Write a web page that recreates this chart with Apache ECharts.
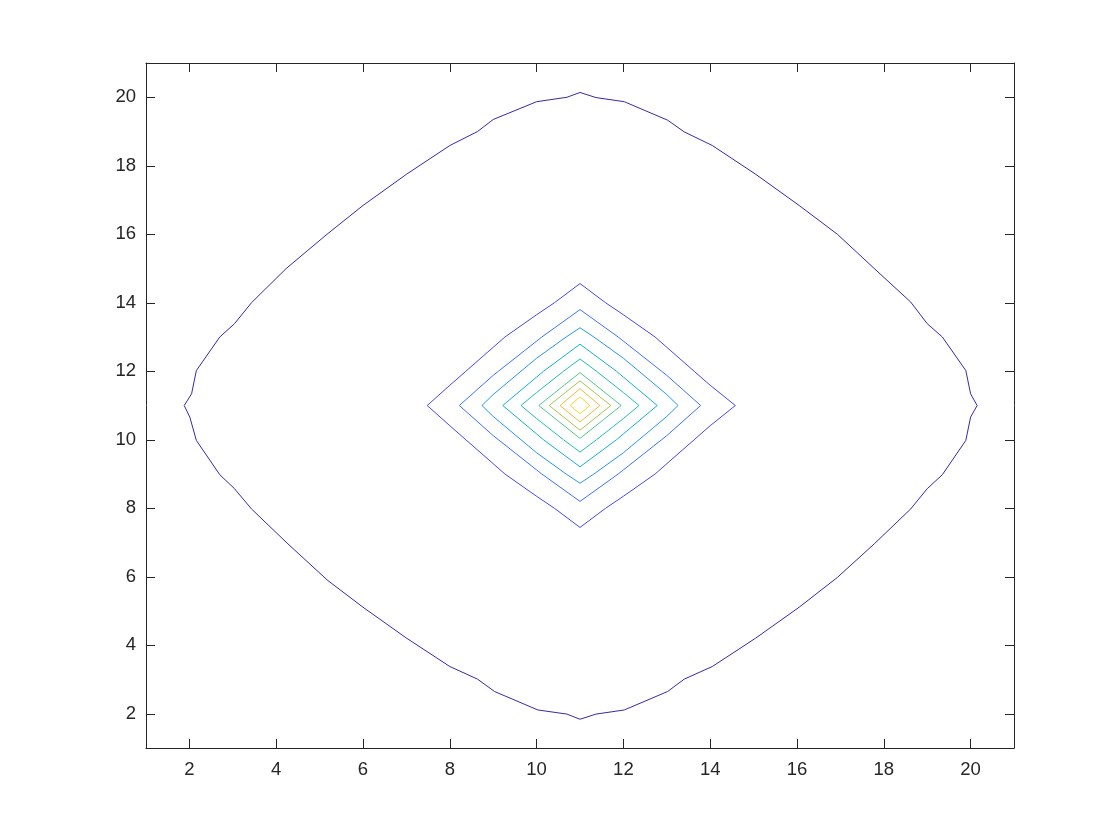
<!DOCTYPE html>
<html>
<head>
<meta charset="utf-8">
<script src="https://cdn.jsdelivr.net/npm/echarts@6/dist/echarts.min.js"></script>
<style>
html,body{margin:0;padding:0;background:#fff;}
#chart{width:1120px;height:840px;}
</style>
</head>
<body>
<div id="chart"></div>
<script>
// Axis ticks
var xTicks = [2, 4, 6, 8, 10, 12, 14, 16, 18, 20];
var yTicks = [2, 4, 6, 8, 10, 12, 14, 16, 18, 20];

// Contour lines (outermost level first)
var contour0 = [[11,20.14],[10.7,20.0],[10,19.87],[9,19.35],[8.64,19],[8,18.59],[7,17.75],[6,16.84],[5.19,16.02],[4.23,15],[3.43,14],[3.04,13.39],[2.7,13],[2.16,12.02],[2.05,11.34],[1.88,11],
  [2.01,10.66],[2.16,9.98],[2.7,8.98],[3.04,8.57],[3.43,7.98],[4.27,6.96],[5.19,5.89],[6,5.11],[7,4.21],[8,3.38],[8.64,3.01],[9.03,2.65],[10.03,2.11],[10.7,1.99],[11,1.84],
  [11.37,1.99],[12.02,2.11],[13.02,2.65],[13.4,3.01],[14.05,3.38],[15.05,4.21],[16.05,5.11],[16.93,5.98],[17.78,6.96],[18.62,7.98],[19,8.57],[19.35,8.98],[19.89,9.98],[20,10.66],[20.15,11],
  [20,11.34],[19.89,12.02],[19.35,13],[19,13.39],[18.62,14.02],[17.78,15],[16.93,16],[16.05,16.84],[15.05,17.75],[14.05,18.59],[13.4,18.99],[13.02,19.33],[12.02,19.87],[11.37,19.99],[11,20.14]];
var contour1 = [[11,14.56],[10.41,14],[10,13.65],[9.27,13],[9,12.70],[8.37,12],[8,11.59],[7.48,11],
  [8,10.41],[8.37,10],[9,9.30],[9.27,9],[10,8.35],[10.41,8],[11,7.44],
  [11.59,8],[12,8.35],[12.73,9],[13,9.30],[13.63,10],[14,10.41],[14.58,11],
  [14,11.59],[13.63,12],[13,12.70],[12.73,13],[12,13.65],[11.59,14],[11,14.56]];
var contour2 = [[11,13.80],[10.12,13],[10,12.88],[9.12,12],[9,11.88],[8.22,11],
  [9,10.12],[9.12,10],[10,9.12],[10.12,9],[11,8.20],
  [11.88,9],[12,9.12],[12.88,10],[13,10.12],[13.78,11],
  [13,11.88],[12.88,12],[12,12.88],[11.88,13],[11,13.80]];
var contour3 = [[11,13.27],[10.68,13],[10,12.38],[9.64,12],[9,11.32],[8.74,11],
  [9,10.68],[9.64,10],[10,9.62],[10.68,9],[11,8.73],
  [11.32,9],[12,9.62],[12.36,10],[13,10.68],[13.26,11],
  [13,11.32],[12.36,12],[12,12.38],[11.32,13],[11,13.27]];
var contour4 = [[11,12.79],[10.16,12],[10,11.83],[9.22,11],
  [10,10.17],[10.16,10],[11,9.21],
  [11.84,10],[12,10.17],[12.78,11],
  [12,11.83],[11.84,12],[11,12.79]];
var contour5 = [[11,12.36],[10.62,12],[10,11.38],[9.64,11],
  [10,10.62],[10.62,10],[11,9.64],
  [11.38,10],[12,10.62],[12.36,11],
  [12,11.38],[11.38,12],[11,12.36]];
var contour6 = [[11,11.96],[10.05,11],[11,10.04],[11.95,11],[11,11.96]];
var contour7 = [[11,11.72],[10.29,11],[11,10.28],[11.71,11],[11,11.72]];
var contour8 = [[11,11.49],[10.54,11],[11,10.52],[11.46,11],[11,11.49]];
var contour9 = [[11,11.25],[10.77,11],[11,10.76],[11.23,11],[11,11.25]];

var contours = [contour0, contour1, contour2, contour3, contour4, contour5, contour6, contour7, contour8, contour9];
var levelColors = ['#3e26a8', '#4847eb', '#3c72fb', '#2796eb', '#12b1d6', '#1fbfb5', '#52c78c', '#a8c64a', '#efba38', '#f8d62e'];

var chart = echarts.init(document.getElementById('chart'), null, {renderer: 'canvas'});
var axisCol = '#262626';
var font = '"Liberation Sans", Arial, Helvetica, sans-serif';

function xAx(pos, showLabel) {
  return {
    type: 'value', position: pos, min: 1, max: 21,
    axisLine: {show: true, onZero: false, lineStyle: {color: axisCol, width: 1}},
    axisTick: {show: true, inside: true, length: 9, customValues: xTicks, lineStyle: {color: axisCol, width: 1}},
    axisLabel: {show: showLabel, customValues: xTicks, margin: 12, color: axisCol, fontSize: 18.5, fontFamily: font},
    splitLine: {show: false}
  };
}
function yAx(pos, showLabel) {
  return {
    type: 'value', position: pos, min: 1, max: 21,
    axisLine: {show: true, onZero: false, lineStyle: {color: axisCol, width: 1}},
    axisTick: {show: true, inside: true, length: 9, customValues: yTicks, lineStyle: {color: axisCol, width: 1}},
    axisLabel: {show: showLabel, customValues: yTicks, margin: 10, color: axisCol, fontSize: 18.5, fontFamily: font},
    splitLine: {show: false}
  };
}

var series = contours.map(function (c, i) {
  return {
    type: 'line', data: c, xAxisIndex: 0, yAxisIndex: 0,
    showSymbol: false, symbol: 'none', smooth: false, silent: true,
    lineStyle: {color: levelColors[i], width: 1},
    z: 2
  };
});

chart.setOption({
  animation: false,
  backgroundColor: '#ffffff',
  grid: {left: 146, right: 106, top: 63, bottom: 92},
  xAxis: [xAx('bottom', true), xAx('top', false)],
  yAxis: [yAx('left', true), yAx('right', false)],
  series: series
});
</script>
</body>
</html>
